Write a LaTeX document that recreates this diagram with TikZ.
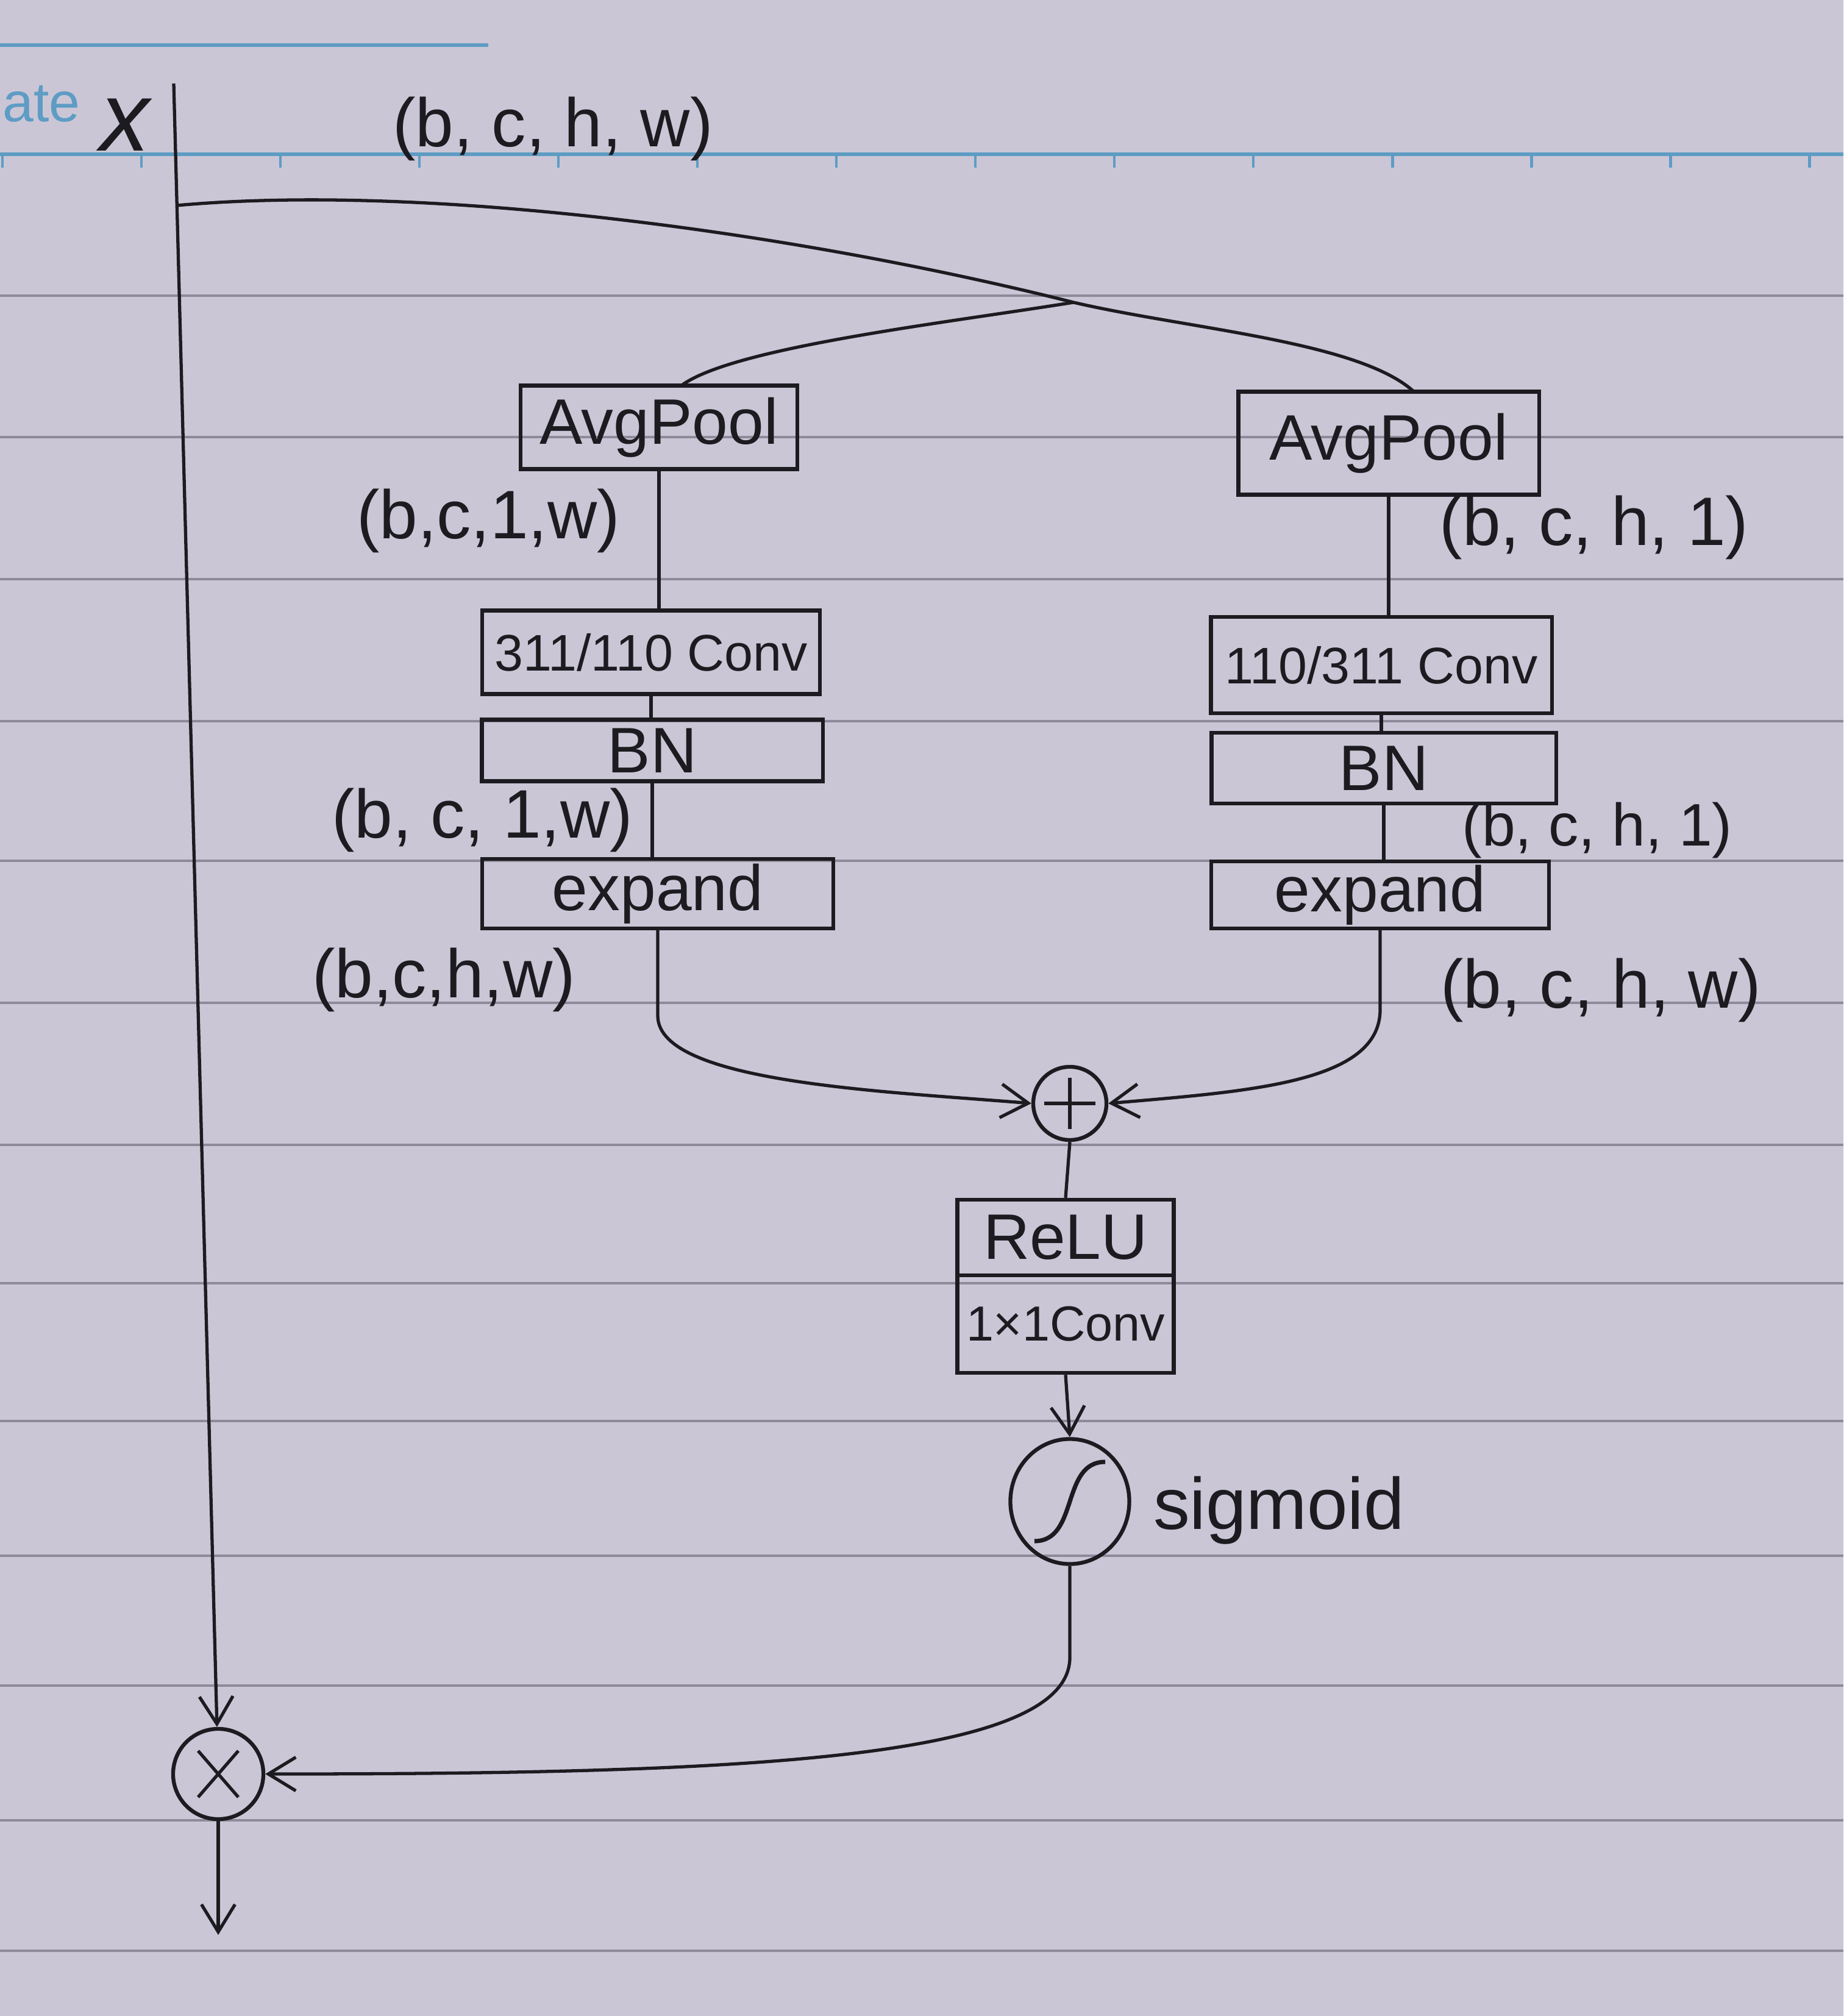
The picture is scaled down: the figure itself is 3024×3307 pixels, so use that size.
\documentclass[tikz,border=0pt]{standalone}
\usepackage{fontspec}
\setmainfont{Liberation Sans}
\usetikzlibrary{arrows.meta,calc,shapes.geometric}
\definecolor{paper}{HTML}{CAC6D6}
\definecolor{rulec}{HTML}{8E8A99}
\definecolor{blueline}{HTML}{5E9CC4}
\definecolor{ink}{HTML}{1C1B20}
\tikzset{
 blk/.style={draw=ink, line width=1.8pt, text=ink, inner sep=0pt, font=\fontsize{30}{36}\selectfont},
 lbl/.style={text=ink, inner sep=0pt, font=\fontsize{32}{38}\selectfont},
 wire/.style={draw=ink, line width=1.5pt},
 arr/.style={wire, -{Straight Barb[length=0.45cm, width=0.55cm]}},
 opn/.style={circle, draw=ink, line width=1.8pt, inner sep=0pt},
 ruling/.style={draw=rulec, line width=1.3pt},
}
\begin{document}
\begin{tikzpicture}[x=0.01cm,y=-0.01cm]
\fill[paper] (0,0) rectangle (3024,3307);
\useasboundingbox (0,0) rectangle (3024,3307);
\clip (0,0) rectangle (3024,3307);
% ruled paper
\foreach \yy in {485,717,950,1183,1412,1645,1878,2105,2331,2552,2765,2986,3200}
  \draw[ruling] (0,\yy) -- (3024,\yy);
\draw[blueline, line width=1.6pt] (0,253) -- (3024,253);
\foreach \xx in {4,232,460,688,916,1144,1372,1600,1828,2056,2284,2512,2740,2968}
  \draw[blueline, line width=1.4pt] (\xx,253) -- (\xx,275);
\draw[blueline, line width=1.6pt] (0,74) -- (801,74);
\node[text=blueline, font=\fontsize{26}{30}\selectfont, anchor=west, inner sep=0pt] (ate) at (4,170) {ate};

% blocks, left branch
\node[blk, minimum width=4.54cm, minimum height=1.37cm] (lap) at (1081,701) {AvgPool};
\node[blk, minimum width=5.54cm, minimum height=1.37cm, font=\fontsize{24}{28}\selectfont] (lconv) at (1068,1070) {311/110 Conv};
\node[blk, minimum width=5.59cm, minimum height=1.01cm] (lbn) at (1070,1231) {BN};
\node[blk, minimum width=5.76cm, minimum height=1.14cm] (lexp) at (1079,1466) {expand};
% blocks, right branch
\node[blk, minimum width=4.93cm, minimum height=1.69cm] (rap) at (2278,727) {AvgPool};
\node[blk, minimum width=5.59cm, minimum height=1.58cm, font=\fontsize{24}{28}\selectfont] (rconv) at (2266,1091) {110/311 Conv};
\node[blk, minimum width=5.65cm, minimum height=1.16cm] (rbn) at (2270,1260) {BN};
\node[blk, minimum width=5.54cm, minimum height=1.10cm] (rexp) at (2264,1468) {expand};
% center
\node[opn, minimum size=1.2cm] (add) at (1755,1810) {};
\node[blk, minimum width=3.55cm, minimum height=1.24cm] (relu) at (1748,2030) {ReLU};
\node[blk, minimum width=3.55cm, minimum height=1.60cm, font=\fontsize{23}{28}\selectfont] (conv1) at (1748,2172) {1×1Conv};
\node[ellipse, draw=ink, line width=1.8pt, minimum width=1.95cm, minimum height=2.05cm, inner sep=0pt] (sig) at (1755,2463) {};
\node[opn, minimum size=1.48cm] (mul) at (358,2910) {};

% coordinates
\coordinate (x0) at (285,137);
\coordinate (split) at (290,337);
\coordinate (fork) at (1761,496);
\coordinate (lapin) at (1117,633);
\coordinate (rapin) at (2320,643);
\coordinate (out) at (358,3174);

% connectors
\draw[arr] (x0) -- (mul);
\draw[wire] (split) .. controls (700,300) and (1300,380) .. (fork);
\draw[wire] (fork) .. controls (1550,530) and (1200,570) .. (lapin);
\draw[wire] (fork) .. controls (1950,540) and (2230,560) .. (rapin);
\draw[wire] (lap.south) -- (lap.south |- lconv.north);
\draw[wire] (lconv.south) -- (lconv.south |- lbn.north);
\draw[wire] (lbn.south) -- (lbn.south |- lexp.north);
\draw[wire] (rap.south) -- (rap.south |- rconv.north);
\draw[wire] (rconv.south) -- (rconv.south |- rbn.north);
\draw[wire] (rbn.south) -- (rbn.south |- rexp.north);
\draw[arr] (lexp.south) -- ++(0,140) .. controls +(0,110) and (1450,1790) .. (add.west);
\draw[arr] (rexp.south) -- ++(0,130) .. controls +(0,120) and (2050,1790) .. (add.east);
\draw[wire] (add.south) -- (relu.north);
\draw[arr] (conv1.south) -- (sig.north);
\draw[arr] (sig.south) -- ++(0,150) .. controls +(0,170) and (1200,2910) .. (mul.east);
\draw[arr] (mul.south) -- (out);

% operator symbols
\draw[wire] ($(add)+(0,-42)$) -- ($(add)+(0,42)$) ($(add)+(-42,0)$) -- ($(add)+(42,0)$);
\draw[wire] ($(mul)+(-33,-38)$) -- ($(mul)+(33,38)$) ($(mul)+(33,-38)$) -- ($(mul)+(-33,38)$);
\draw[wire, line width=2pt] ($(sig)+(-58,65)$) .. controls ($(sig)+(15,65)$) and ($(sig)+(-15,-65)$) .. ($(sig)+(58,-65)$);

% labels
\node[lbl, font=\fontsize{46}{52}\selectfont\itshape] (xl) at (205,205) {x};
\node[lbl] (s0) at (907,211) {(b, c, h, w)};
\node[lbl] (s1) at (801,854) {(b,c,1,w)};
\node[lbl] (s2) at (791,1345) {(b, c, 1,w)};
\node[lbl] (s3) at (728,1607) {(b,c,h,w)};
\node[lbl] (s4) at (2615,865) {(b, c, h, 1)};
\node[lbl, font=\fontsize{28}{32}\selectfont] (s5) at (2620,1362) {(b, c, h, 1)};
\node[lbl] (s6) at (2626,1624) {(b, c, h, w)};
\node[lbl, font=\fontsize{34}{40}\selectfont] (sigl) at (2098,2478) {sigmoid};
\end{tikzpicture}
\end{document}
